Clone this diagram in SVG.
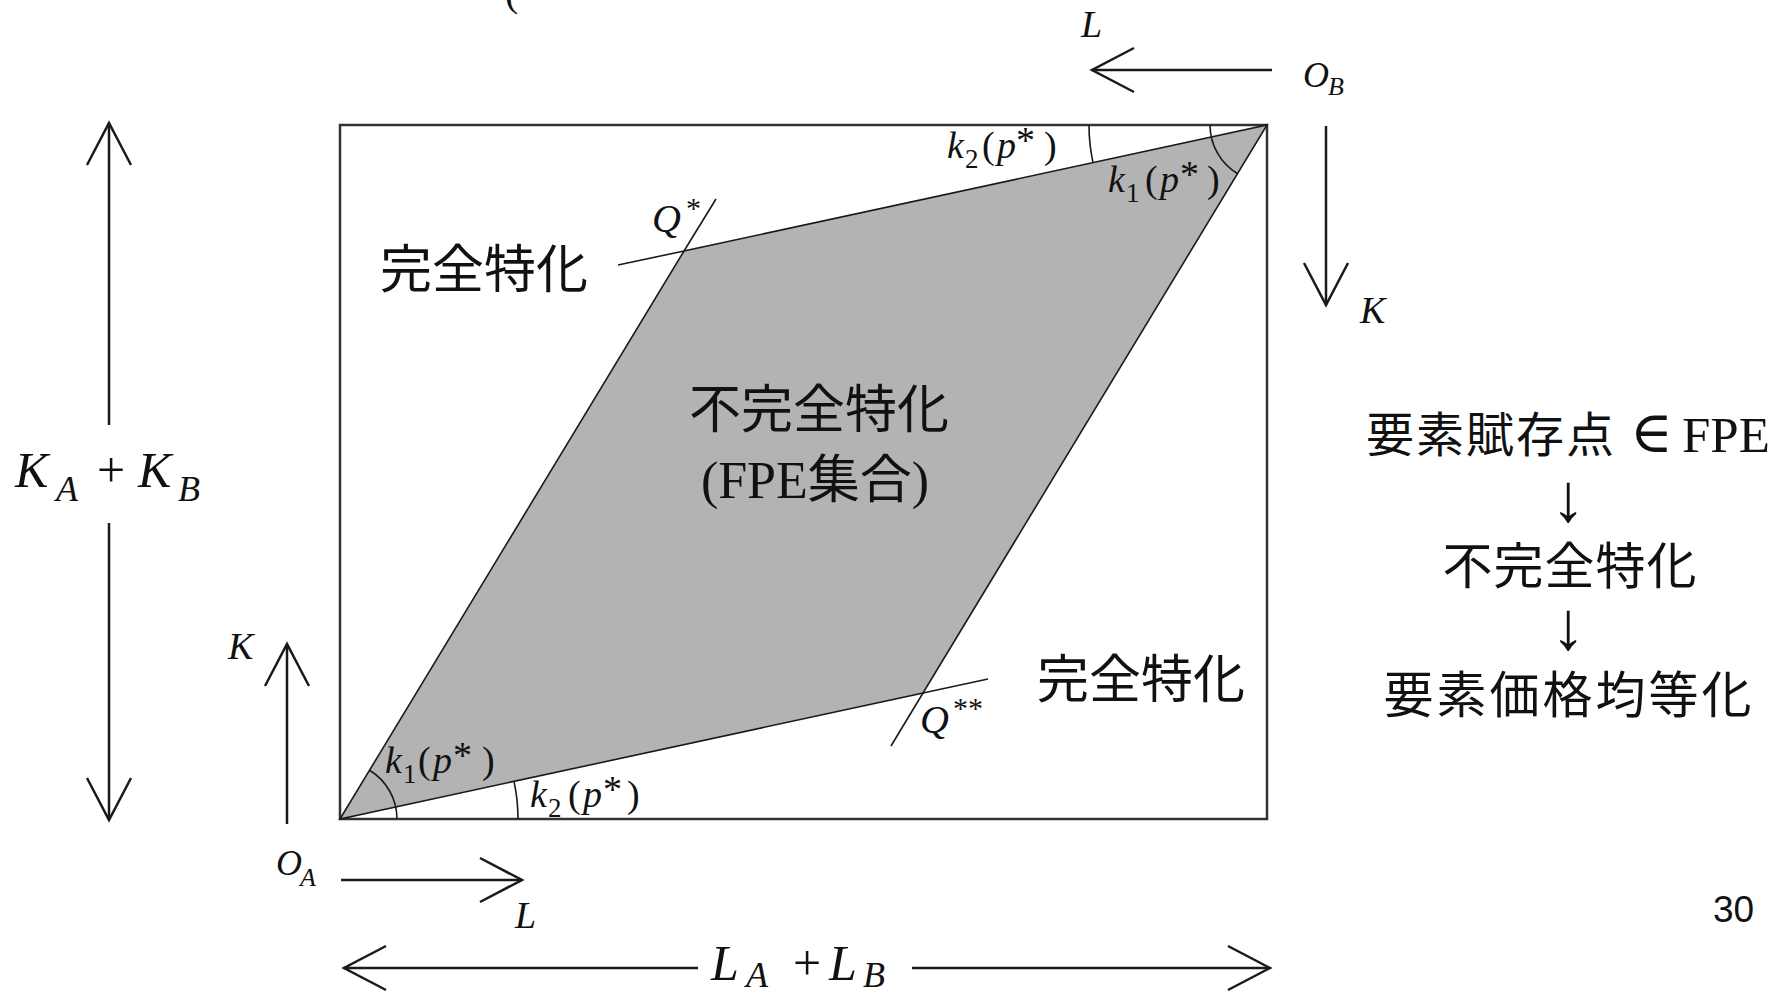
<svg xmlns="http://www.w3.org/2000/svg" width="1780" height="996" viewBox="0 0 1780 996">
<style>
.it{font-family:"Liberation Serif","DejaVu Serif",serif;font-style:italic;fill:#111}
.up{font-family:"Liberation Serif","DejaVu Serif",serif;fill:#111}
.cjk{font-family:"Liberation Serif","Noto Sans CJK JP",sans-serif;fill:#111}
.ln{stroke:#1a1a1a;stroke-width:2.5;fill:none}
.thin{stroke:#1a1a1a;stroke-width:1.6;fill:none}
.m38{font-size:38px}
.s27{font-size:27px}
</style>
<defs>
<marker id="ah" viewBox="-46 -26 50 52" markerWidth="50" markerHeight="52" refX="0" refY="0" orient="auto-start-reverse" markerUnits="userSpaceOnUse">
<path d="M-42,-22 L0,0 L-42,22" fill="none" stroke="#1a1a1a" stroke-width="2.5"/>
</marker>
</defs>
<rect width="1780" height="996" fill="#ffffff"/>

<g id="box">
<rect x="340" y="125" width="927" height="694" fill="none" stroke="#333" stroke-width="2.5"/>
</g>

<g id="fpe-set">
<polygon points="340,819 684,251 1267,125 923,693" fill="#b3b3b3" stroke="#1a1a1a" stroke-width="1.6"/>
<line class="thin" x1="684" y1="251" x2="618" y2="265"/>
<line class="thin" x1="684" y1="251" x2="716" y2="199"/>
<line class="thin" x1="923" y1="693" x2="988" y2="679"/>
<line class="thin" x1="923" y1="693" x2="891" y2="746"/>
</g>

<g id="angles">
<path class="thin" d="M1210,125 A57,57 0 0 0 1237.5,173.7"/>
<path class="thin" d="M1089,125 A178,178 0 0 0 1093,162.6"/>
<path class="thin" d="M369.5,770.2 A57,57 0 0 1 397,819"/>
<path class="thin" d="M514,781.4 A178,178 0 0 1 518,819"/>
</g>

<g id="connectors">
<line class="ln" x1="1272" y1="70" x2="1092" y2="70" marker-end="url(#ah)"/>
<line class="ln" x1="1326" y1="126" x2="1326" y2="305" marker-end="url(#ah)"/>
<line class="ln" x1="287" y1="824" x2="287" y2="644" marker-end="url(#ah)"/>
<line class="ln" x1="341" y1="880" x2="522" y2="880" marker-end="url(#ah)"/>
<line class="ln" x1="109" y1="425" x2="109" y2="123" marker-end="url(#ah)"/>
<line class="ln" x1="109" y1="523" x2="109" y2="820" marker-end="url(#ah)"/>
<line class="ln" x1="698" y1="968" x2="344" y2="968" marker-end="url(#ah)"/>
<line class="ln" x1="912" y1="968" x2="1270" y2="968" marker-end="url(#ah)"/>
</g>

<g id="axis-labels">
<text class="up" x="505" y="6" font-size="40">(</text>
<text class="it" x="1081" y="37" font-size="38">L</text>
<text class="it" x="1303" y="87" font-size="36">O<tspan x="1328" y="95" font-size="26">B</tspan></text>
<text class="it" x="1360" y="323" font-size="38">K</text>
<text class="it" x="228" y="659" font-size="38">K</text>
<text class="it" x="276" y="875" font-size="36">O<tspan x="300" y="886" font-size="26">A</tspan></text>
<text class="it" x="515" y="928" font-size="38">L</text>
<text class="it" font-size="50"><tspan x="15" y="487">K</tspan><tspan x="56" y="501" font-size="36">A</tspan><tspan class="up" x="97" y="487" style="font-style:normal">+</tspan><tspan x="138" y="487">K</tspan><tspan x="178" y="501" font-size="36">B</tspan></text>
<text class="it" font-size="50"><tspan x="711" y="980">L</tspan><tspan x="746" y="987" font-size="36">A</tspan><tspan x="793" y="980" style="font-style:normal">+</tspan><tspan x="829" y="980">L</tspan><tspan x="863" y="987" font-size="36">B</tspan></text>
</g>

<g id="k-labels">
<text class="up m38"><tspan class="it" x="947" y="158">k</tspan><tspan class="s27" x="965" y="168">2</tspan><tspan x="982" y="158">(</tspan><tspan class="it" x="997" y="158">p</tspan><tspan x="1016" y="153">*</tspan><tspan x="1044" y="158">)</tspan></text>
<text class="up m38"><tspan class="it" x="1108" y="192">k</tspan><tspan class="s27" x="1126" y="202">1</tspan><tspan x="1145" y="192">(</tspan><tspan class="it" x="1160" y="192">p</tspan><tspan x="1180" y="187">*</tspan><tspan x="1207" y="192">)</tspan></text>
<text class="up m38"><tspan class="it" x="385" y="773">k</tspan><tspan class="s27" x="403" y="783">1</tspan><tspan x="418" y="773">(</tspan><tspan class="it" x="433" y="773">p</tspan><tspan x="453" y="768">*</tspan><tspan x="482" y="773">)</tspan></text>
<text class="up m38"><tspan class="it" x="530" y="807">k</tspan><tspan class="s27" x="548" y="817">2</tspan><tspan x="568" y="807">(</tspan><tspan class="it" x="583" y="807">p</tspan><tspan x="603" y="802">*</tspan><tspan x="627" y="807">)</tspan></text>
</g>

<g id="q-labels">
<text class="it" x="652" y="232" font-size="40">Q<tspan class="up" x="686" y="218" font-size="30" style="font-style:normal">*</tspan></text>
<text class="it" x="920" y="733" font-size="40">Q<tspan class="up" x="953" y="718" font-size="30" style="font-style:normal">**</tspan></text>
</g>

<g id="region-labels">
<text class="cjk" x="380" y="288" font-size="52">完全特化</text>
<text class="cjk" x="1037" y="698" font-size="52">完全特化</text>
<text class="cjk" x="819" y="428" font-size="52" text-anchor="middle">不完全特化</text>
<text class="cjk" x="815" y="498" font-size="52" text-anchor="middle">(FPE集合)</text>
</g>

<g id="flow">
<text class="cjk" font-size="48" letter-spacing="2"><tspan x="1366" y="452">要素賦存点</tspan></text>
<text class="up" x="1630" y="452" font-size="58">∈</text>
<text class="up" x="1682" y="452" font-size="51">FPE</text>
<text class="up" x="1568" y="521" font-size="68" text-anchor="middle">↓</text>
<text class="cjk" x="1570" y="584" font-size="50" text-anchor="middle" letter-spacing="1">不完全特化</text>
<text class="up" x="1568" y="649" font-size="68" text-anchor="middle">↓</text>
<text class="cjk" x="1569" y="713" font-size="50" text-anchor="middle" letter-spacing="3">要素価格均等化</text>
</g>

<g id="page-number">
<text x="1713" y="922" font-family="Liberation Sans, Arial, sans-serif" font-size="37" fill="#111">30</text>
</g>
</svg>
